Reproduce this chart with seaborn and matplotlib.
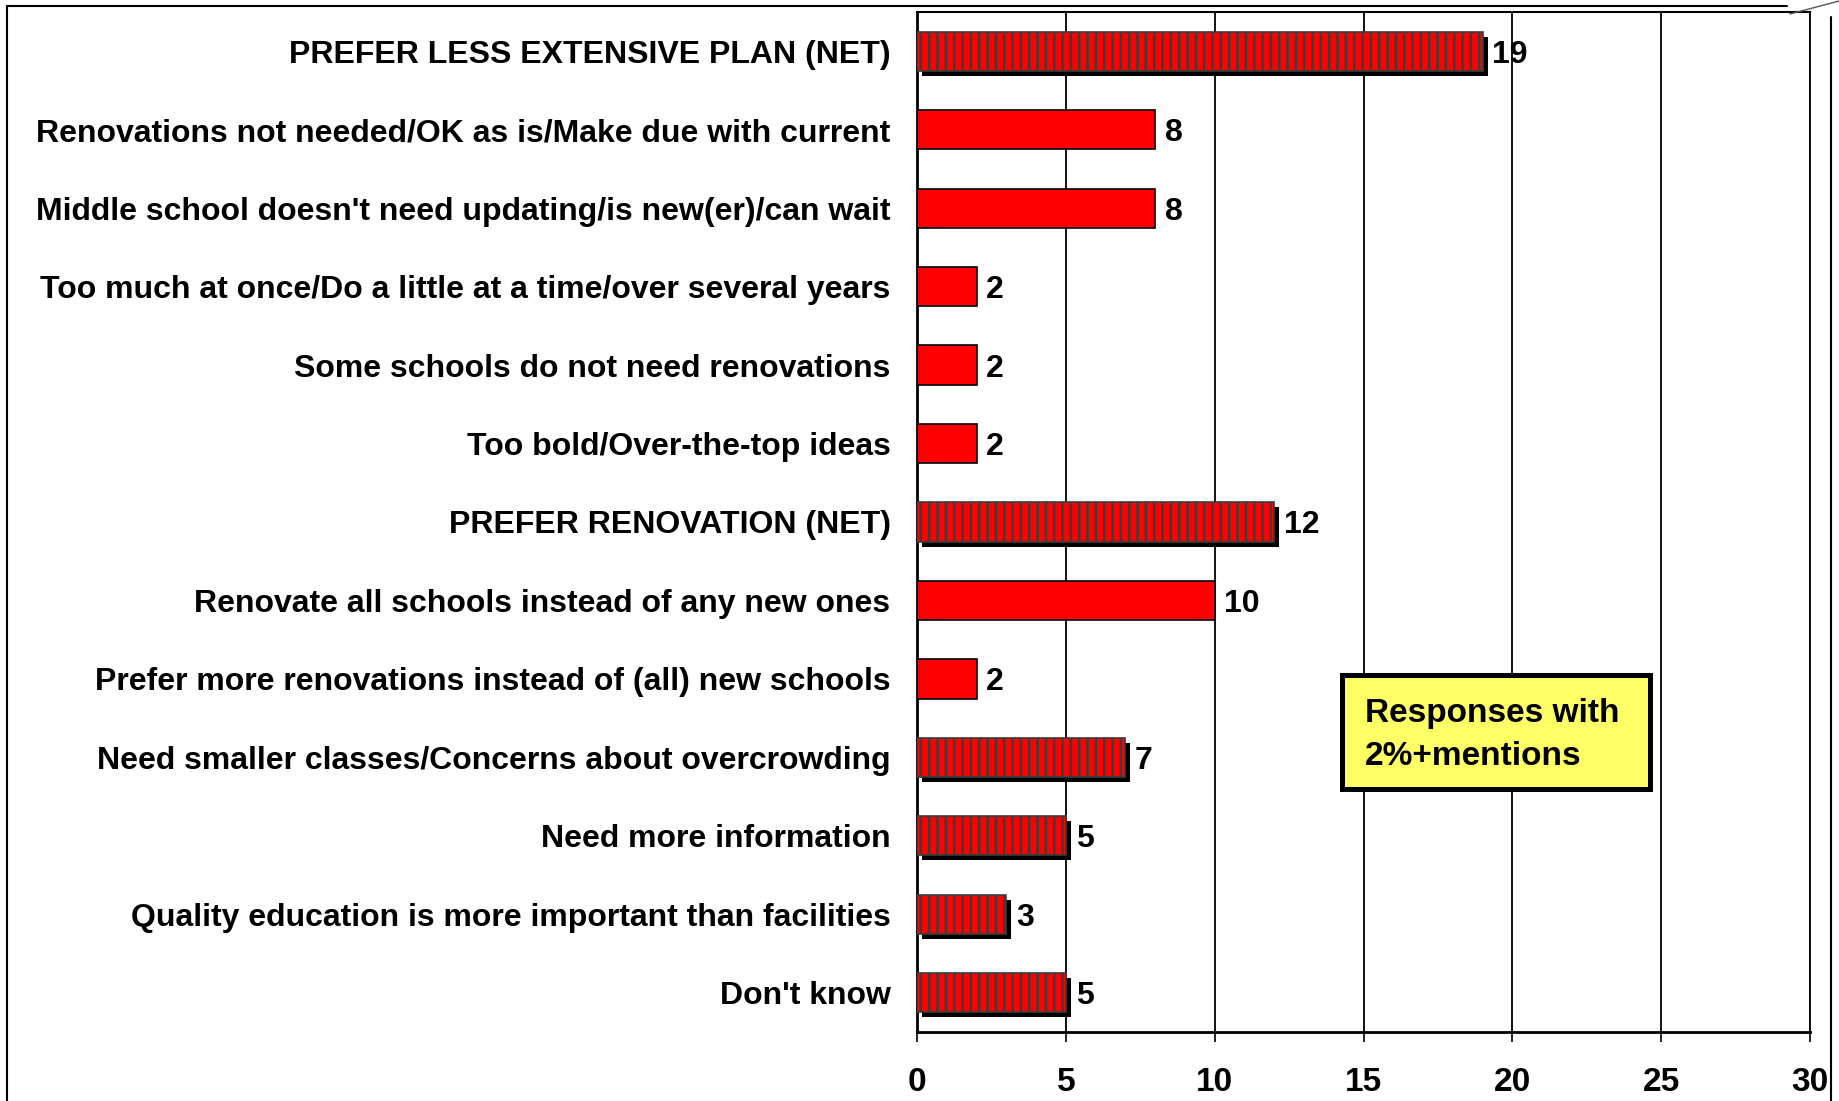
import numpy as np
import pandas as pd
import matplotlib
matplotlib.use("Agg")
import matplotlib.pyplot as plt
import matplotlib.patheffects as pe
from matplotlib.lines import Line2D
from matplotlib.patches import Rectangle
import seaborn as sns

# Chart data
categories = [
    "PREFER LESS EXTENSIVE PLAN (NET)",
    "Renovations not needed/OK as is/Make due with current",
    "Middle school doesn't need updating/is new(er)/can wait",
    "Too much at once/Do a little at a time/over several years",
    "Some schools do not need renovations",
    "Too bold/Over-the-top ideas",
    "PREFER RENOVATION (NET)",
    "Renovate all schools instead of any new ones",
    "Prefer more renovations instead of (all) new schools",
    "Need smaller classes/Concerns about overcrowding",
    "Need more information",
    "Quality education is more important than facilities",
    "Don't know",
]
values = [19, 8, 8, 2, 2, 2, 12, 10, 2, 7, 5, 3, 5]
# 0 = top-level answer / net, 1 = sub-mention under a net
level = [0, 1, 1, 1, 1, 1, 0, 1, 1, 0, 0, 0, 0]
x_ticks = [0, 5, 10, 15, 20, 25, 30]
note = "Responses with\n2%+mentions"

df = pd.DataFrame({"category": categories, "value": values, "level": level})

sns.set_theme(style="white")
plt.rcParams["font.family"] = ["Liberation Sans", "DejaVu Sans"]
plt.rcParams["hatch.linewidth"] = 1.8
for key in ["text.color", "axes.labelcolor", "xtick.color", "ytick.color"]:
    plt.rcParams[key] = "black"


class Shadow(pe.AbstractPathEffect):
    # solid black drop shadow without the hatch
    def draw_path(self, renderer, gc, tpath, affine, rgbFace):
        gc0 = renderer.new_gc()
        gc0.copy_properties(gc)
        gc0.set_hatch(None)
        gc0.set_linewidth(0)
        renderer.draw_path(gc0, tpath, affine + self._offset_transform(renderer), (0, 0, 0, 1))
        gc0.restore()


fig = plt.figure(figsize=(18.39, 11.01), dpi=100)
ax = fig.add_axes([917 / 1839, 1 - 1032 / 1101, 893 / 1839, 1020 / 1101])
ax.set_facecolor("white")

sns.barplot(data=df, x="value", y="category", orient="h", color="#FF0000",
            saturation=1, width=0.5, edgecolor="black", linewidth=1.2, ax=ax, zorder=3)

for patch, lv in zip(ax.patches, df["level"]):
    if lv == 0:
        patch.set_hatch("||")
        patch.set_edgecolor("#3c3c3c")
        patch.set_path_effects([Shadow(offset=(3.6, -3.6)), pe.Normal()])

labels = ax.bar_label(ax.containers[0], labels=[str(v) for v in values], padding=7,
                      fontsize=23, fontweight="bold", color="black", zorder=4)
for t in labels:
    t.set_verticalalignment("center_baseline")

ax.set_xlim(0, 30)
ax.set_ylim(len(categories) - 0.5, -0.5)
ax.set_xticks(x_ticks)
ax.set_xticklabels([str(t) for t in x_ticks], fontsize=24, fontweight="bold")
ax.set_yticks(range(len(categories)))
ax.set_yticklabels(categories, fontsize=23, fontweight="bold")
ax.set_yticks(np.arange(-0.5, len(categories), 1), minor=True)
ax.tick_params(axis="y", which="major", length=0, pad=19)
ax.tick_params(axis="y", which="minor", length=7, width=1.2, color="black", direction="out")
ax.tick_params(axis="x", length=7, width=1.2, color="black", direction="out", pad=18, bottom=True)
ax.set_xlabel("")
ax.set_ylabel("")

ax.grid(axis="x", color="black", linewidth=1.3, zorder=1)
ax.grid(axis="y", visible=False)
ax.set_axisbelow(True)
for side in ["left", "bottom"]:
    ax.spines[side].set_color("black")
    ax.spines[side].set_linewidth(2)
ax.spines["top"].set_color("black")
ax.spines["top"].set_linewidth(1.5)
ax.spines["right"].set_color("black")
ax.spines["right"].set_linewidth(1.3)

# note box
ax.add_patch(Rectangle((0.476, 0.238), 0.345, 0.112, transform=ax.transAxes,
                       facecolor="#FFFF66", edgecolor="black", linewidth=3.6, zorder=5))
ax.text(0.502, 0.291, note, transform=ax.transAxes, fontsize=24, fontweight="bold",
        va="center", ha="left", linespacing=1.5, zorder=6)

# page frame lines
W, H = 1839, 1101
fig.add_artist(Line2D([7 / W, 7 / W], [0, 1 - 6 / H], color="black", lw=1.5))
fig.add_artist(Line2D([7 / W, 1787 / W], [1 - 6 / H, 1 - 6 / H], color="black", lw=1.5))
fig.add_artist(Line2D([1831 / W, 1831 / W], [0, 1 - 17 / H], color="black", lw=1.5))
fig.add_artist(Line2D([1790 / W, 1839 / W], [1 - 14 / H, 1 - 1 / H], color="#555555", lw=1))

fig.savefig("out.png", dpi=100)
